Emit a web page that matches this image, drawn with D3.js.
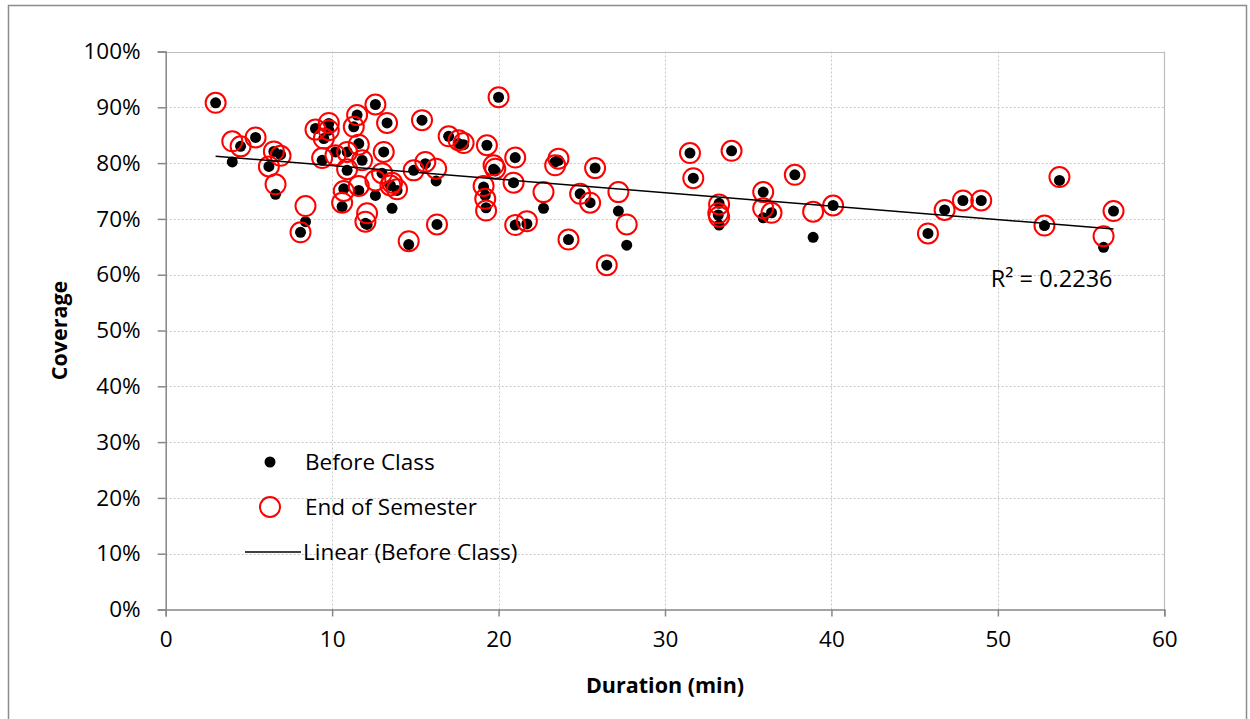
<!DOCTYPE html>
<html lang="en">
<head>
<meta charset="UTF-8">
<title>Coverage vs Duration</title>
<script src="https://d3js.org/d3.v7.min.js"></script>
<style>
  body { margin: 0; background: #fff; }
  svg text { font-family: "Open Sans", "Liberation Sans", sans-serif; fill: #000; }
</style>
</head>
<body>
<div id="chart"></div>
<script>
// session duration (min), coverage before class and at end of semester (%)
const duration = [3.0, 4.0, 4.5, 5.4, 6.2, 6.6, 6.5, 6.9, 8.1, 8.4,
  9.0, 9.4, 9.5, 9.8, 9.8, 10.2, 10.6, 10.7, 10.9, 10.9,
  11.3, 11.5, 11.6, 11.6, 11.8, 12.1, 12.0, 12.6, 12.6, 13.0,
  13.1, 13.3, 13.5, 13.9, 13.6, 14.6, 14.9, 15.4, 15.6, 16.25,
  16.3, 17.0, 17.6, 17.9, 19.3, 20.0, 21.0, 19.7, 19.8, 20.9,
  19.1, 19.2, 19.25, 22.7, 21.0, 21.7, 23.4, 23.6, 25.8, 24.9,
  25.5, 27.2, 27.7, 24.2, 26.5, 31.5, 34.0, 31.7, 33.25, 33.2,
  33.25, 35.9, 35.9, 36.4, 37.8, 38.9, 40.1, 45.8, 46.8, 47.9,
  49.0, 53.7, 52.8, 56.35, 56.95];
const beforeClass = [90.8, 80.2, 83.0, 84.6, 79.4, 74.4, 82.1, 81.5, 67.6, 69.5,
  86.2, 80.5, 84.4, 87.1, 85.9, 82.0, 72.2, 75.4, 78.7, 82.0,
  86.5, 88.6, 83.5, 75.1, 80.5, 69.0, 69.2, 90.5, 74.2, 78.2,
  82.0, 87.2, 76.0, 75.1, 71.9, 65.4, 78.7, 87.7, 79.9, 76.8,
  69.0, 84.8, 83.5, 83.3, 83.2, 91.8, 81.0, 78.9, 78.6, 76.5,
  75.7, 74.2, 72.0, 71.9, 68.9, 69.1, 80.2, 80.5, 79.1, 74.5,
  72.9, 71.4, 65.3, 66.3, 61.7, 81.8, 82.2, 77.3, 72.8, 70.7,
  68.9, 74.8, 70.2, 71.1, 77.9, 66.7, 72.4, 67.4, 71.6, 73.3,
  73.3, 76.9, 68.8, 64.9, 71.4];
const endOfSemester = [90.8, 83.9, 83.0, 84.6, 79.4, 76.2, 82.1, 81.3, 67.6, 72.3,
  86.0, 80.9, 84.4, 87.2, 85.9, 81.4, 72.9, 75.0, 78.9, 82.0,
  86.5, 88.6, 83.3, 75.9, 80.5, 71.0, 69.5, 90.5, 76.9, 78.2,
  82.0, 87.2, 76.0, 75.3, 76.5, 66.0, 78.7, 87.7, 80.2, 79.0,
  69.0, 84.8, 84.1, 83.6, 83.2, 91.8, 81.0, 79.6, 79.0, 76.5,
  75.9, 73.6, 71.5, 74.8, 68.9, 69.6, 79.6, 80.8, 79.1, 74.5,
  72.9, 74.8, 69.0, 66.3, 61.7, 81.8, 82.2, 77.3, 72.6, 71.0,
  70.4, 74.8, 71.9, 71.1, 77.9, 71.3, 72.4, 67.4, 71.6, 73.3,
  73.3, 77.5, 68.8, 66.9, 71.4];
const xTicks = [0, 10, 20, 30, 40, 50, 60];
const yTicks = [0, 10, 20, 30, 40, 50, 60, 70, 80, 90, 100];
const rSquaredLabel = "R\u00b2 = 0.2236";

const width = 1250, height = 719;
const svg = d3.select("#chart").append("svg")
  .attr("width", width).attr("height", height);

// outer chart border
svg.append("rect")
  .attr("x", 8.5).attr("y", 5.5).attr("width", 1238).attr("height", 730)
  .attr("fill", "none").attr("stroke", "#8c8c8c").attr("stroke-width", 1.5);

const x = d3.scaleLinear().domain([0, 60]).range([165.7, 1164.3]);
const y = d3.scaleLinear().domain([0, 100]).range([609.5, 51.5]);

// gridlines
const grid = svg.append("g").attr("stroke", "#c8c8c8").attr("stroke-width", 1)
  .attr("stroke-dasharray", "2,2");
grid.selectAll(".gy").data(yTicks.filter(d => d > 0 && d < 100)).enter().append("line")
  .attr("x1", x(0)).attr("x2", x(60))
  .attr("y1", d => Math.round(y(d)) + 0.5).attr("y2", d => Math.round(y(d)) + 0.5);
grid.selectAll(".gx").data(xTicks.filter(d => d > 0)).enter().append("line")
  .attr("y1", y(0)).attr("y2", y(100))
  .attr("x1", d => Math.round(x(d)) + 0.5).attr("x2", d => Math.round(x(d)) + 0.5);

// plot area top / right edges
svg.append("path")
  .attr("d", `M${x(0)},${Math.round(y(100)) + 0.5}H${Math.round(x(60)) + 0.5}V${y(0)}`)
  .attr("fill", "none").attr("stroke", "#bdbdbd").attr("stroke-width", 1.2);

// axes
const yAxis = svg.append("g")
  .attr("transform", `translate(${x(0)},0)`)
  .call(d3.axisLeft(y).tickValues(yTicks).tickFormat(d => d + "%").tickSize(8).tickPadding(17));
const xAxis = svg.append("g")
  .attr("transform", `translate(0,${y(0)})`)
  .call(d3.axisBottom(x).tickValues(xTicks).tickSize(7).tickPadding(15));

[xAxis, yAxis].forEach(a => {
  a.select(".domain").attr("stroke", "#878787").attr("stroke-width", 1.5);
  a.selectAll(".tick line").attr("stroke", "#878787").attr("stroke-width", 1.5);
  a.selectAll("text").style("font-size", "22.5px").attr("fill", "#000");
});

// series
const pts = duration.map((d, i) => ({ d: d, b: beforeClass[i], e: endOfSemester[i] }));

svg.append("g").selectAll("circle").data(pts).enter().append("circle")
  .attr("cx", p => x(p.d)).attr("cy", p => y(p.b)).attr("r", 5.5)
  .attr("fill", "#000");

svg.append("g").selectAll("circle").data(pts).enter().append("circle")
  .attr("cx", p => x(p.d)).attr("cy", p => y(p.e)).attr("r", 10)
  .attr("fill", "none").attr("stroke", "#ff0000").attr("stroke-width", 2);

// linear trendline on Before Class
const mx = d3.mean(duration), my = d3.mean(beforeClass);
const slope = d3.sum(duration, (d, i) => (d - mx) * (beforeClass[i] - my)) /
  d3.sum(duration, d => (d - mx) * (d - mx));
const intercept = my - slope * mx;
const x0 = d3.min(duration), x1 = d3.max(duration);
svg.append("line")
  .attr("x1", x(x0)).attr("y1", y(intercept + slope * x0))
  .attr("x2", x(x1)).attr("y2", y(intercept + slope * x1))
  .attr("stroke", "#000").attr("stroke-width", 1.5);

svg.append("text")
  .attr("x", x(x1) - 1).attr("y", y(intercept + slope * x1) + 58)
  .attr("text-anchor", "end")
  .style("font-size", "23.5px")
  .text(rSquaredLabel);

// axis titles
svg.append("text")
  .attr("x", (x(0) + x(60)) / 2).attr("y", 693)
  .attr("text-anchor", "middle")
  .style("font-size", "21.5px").style("font-weight", "bold")
  .text("Duration (min)");
svg.append("text")
  .attr("transform", `translate(67,${(y(0) + y(100)) / 2}) rotate(-90)`)
  .attr("text-anchor", "middle")
  .style("font-size", "21.5px").style("font-weight", "bold")
  .text("Coverage");

// legend
const legend = svg.append("g");
legend.append("circle").attr("cx", 270).attr("cy", 462).attr("r", 5.5).attr("fill", "#000");
legend.append("circle").attr("cx", 270).attr("cy", 507).attr("r", 10)
  .attr("fill", "none").attr("stroke", "#ff0000").attr("stroke-width", 2);
legend.append("line").attr("x1", 245).attr("x2", 301).attr("y1", 552).attr("y2", 552)
  .attr("stroke", "#000").attr("stroke-width", 1.5);
const legendLabels = ["Before Class", "End of Semester", "Linear (Before Class)"];
legend.selectAll("text").data(legendLabels).enter().append("text")
  .attr("x", (d, i) => i === 2 ? 303 : 305)
  .attr("y", (d, i) => 462 + i * 45)
  .attr("dy", "0.35em")
  .style("font-size", "22.5px")
  .text(d => d);
</script>
</body>
</html>
